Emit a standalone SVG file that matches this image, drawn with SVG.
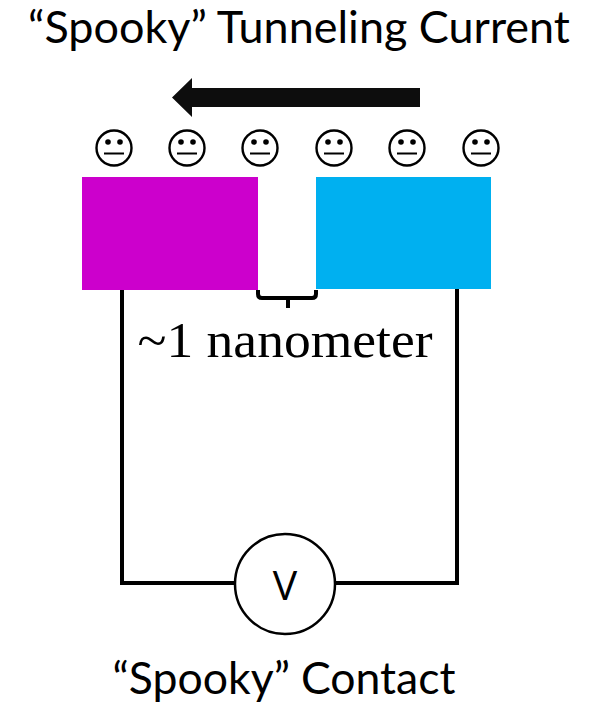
<svg xmlns="http://www.w3.org/2000/svg" width="600" height="704" viewBox="0 0 600 704">
<style>
.t{font-family:Lato,"Open Sans","Liberation Sans",sans-serif;font-size:44px;fill:#000;text-anchor:middle}
.w{fill:none;stroke:#000;stroke-width:4}
.f circle.o{fill:#fff;stroke:#000;stroke-width:2.4}
.f circle.e{fill:#000}
.f line{stroke:#000;stroke-width:2}
</style>
<defs>
<g id="face" class="f">
<circle class="o" r="17.5"/><circle class="e" cx="-6" cy="-6" r="2.8"/><circle class="e" cx="6" cy="-6" r="2.8"/><line x1="-10" y1="5.5" x2="10" y2="5.5"/>
</g>
</defs>
<rect width="600" height="704" fill="#fff"/>
<g id="connectors">
<path class="w" d="M122 288V583H236M335 583H457V288"/>
<path class="w" d="M258 290V294Q258 298 262 298H312Q316 298 316 294V290M288 298V308"/>
<path id="arrow" fill="#0d0d0d" d="M420 88V107H192V117L172 97.500L192 78V88Z"/>
</g>
<g id="left-electrode"><rect x="82" y="177" width="176" height="113" fill="#cc00cc"/></g>
<g id="right-electrode"><rect x="316" y="177" width="175" height="112" fill="#00b0f0"/></g>
<g id="electrons">
<use href="#face" x="114" y="148"/>
<use href="#face" x="187" y="148"/>
<use href="#face" x="260" y="148"/>
<use href="#face" x="334" y="148"/>
<use href="#face" x="407" y="148"/>
<use href="#face" x="481" y="148"/>
</g>
<g id="voltmeter"><circle cx="285" cy="584" r="50" fill="#fff" stroke="#000" stroke-width="2.500"/>
<text class="t" x="285" y="600" style="font-family:'Open Sans',sans-serif;font-size:41px">V</text></g>
<g id="title"><text class="t" x="299" y="43" textLength="542" lengthAdjust="spacingAndGlyphs">“Spooky” Tunneling Current</text></g>
<g id="gap-label"><text x="285" y="357" text-anchor="middle" font-family="'Liberation Serif',serif" font-size="50" textLength="295" lengthAdjust="spacingAndGlyphs">~1 nanometer</text></g>
<g id="caption"><text class="t" x="284" y="694" textLength="343" lengthAdjust="spacingAndGlyphs">“Spooky” Contact</text></g>
</svg>
